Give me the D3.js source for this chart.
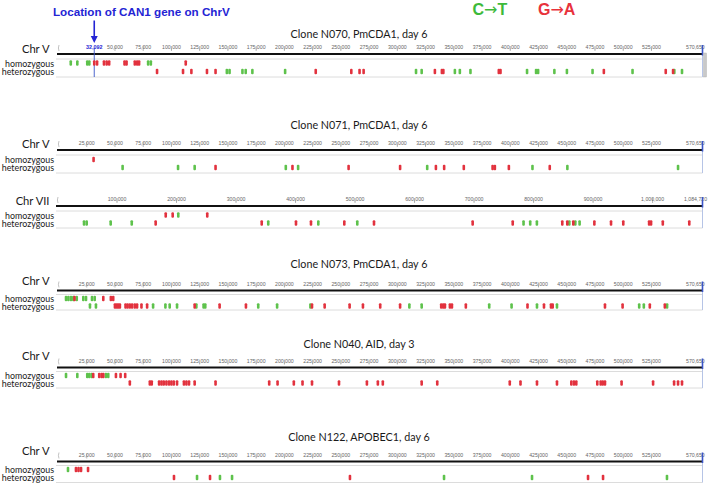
<!DOCTYPE html>
<html><head><meta charset="utf-8">
<script src="https://cdn.jsdelivr.net/npm/d3@7"></script>
<style>body{margin:0;background:#fff}svg{display:block}</style>
</head><body><svg id="c" width="708" height="485"></svg>
<script>
// ---------------- DATA ----------------
const chrVLength = 570650;
const chrVIILength = 1084720;
const chrVTicks = d3.range(25000, 525001, 25000);
const chrVIITicks = d3.range(100000, 1000001, 100000);
const can1Position = 32092;
const panelTitles = ["Clone N070, PmCDA1, day 6", "Clone N071, PmCDA1, day 6", "", "Clone N073, PmCDA1, day 6", "Clone N040, AID, day 3", "Clone N122, APOBEC1, day 6"];
const chromosomeNames = ["Chr V", "Chr V", "Chr VII", "Chr V", "Chr V", "Chr V"];
const rowNames = ["homozygous", "heterozygous"];
const mutationFrom = ["C", "G"];
const mutationTo = ["T", "A"];

// Clone N070, Chr V
const n070HomCT = [11300, 17100, 25900, 27700, 79800, 82200];
const n070HomGA = [32100, 34600, 40700, 43100, 45300, 58900, 60700, 68000, 70100, 71800, 113100];
const n070HetCT = [149500, 151900, 163300, 166200, 172100, 201100, 317000, 322000, 351400, 355800, 365200, 415300, 423300, 425100, 439500, 450600, 473300, 508700, 545700, 552500];
const n070HetGA = [87700, 110700, 118100, 131900, 139500, 228200, 259700, 267000, 270600, 333700, 339900, 341200, 390300, 391800, 483300, 538100, 544600];
// Clone N071, Chr V
const n071HomCT = [];
const n071HomGA = [31500];
const n071HetCT = [57200, 106300, 121000, 201700, 212600, 326900, 420100, 451000, 549000];
const n071HetGA = [139500, 207600, 257300, 302900, 334600, 341900, 359300, 384800, 386800, 399200, 435400];
// Clone N071, Chr VII
const n071VIIHomCT = [203800];
const n071VIIHomGA = [182700, 194400, 252500];
const n071VIIHetCT = [45400, 49900, 90200, 125600, 355000, 439100, 504600, 784000, 795200, 806400, 860900, 871000, 878200];
const n071VIIHetGA = [165800, 344000, 401600, 426800, 482800, 532700, 698500, 765800, 849100, 857500, 867600, 903000, 931000, 951600, 995000, 998300, 1018000, 1062500];
// Clone N073, Chr V
const n073HomCT = [7100, 9200, 11500, 13600, 16600, 22400, 24800, 30100, 32500];
const n073HomGA = [14600, 40100, 46800, 48900];
const n073HetCT = [28300, 33600, 84200, 95100, 98900, 105400, 122500, 128900, 130400, 177300, 194000, 223500, 311100, 322000, 381800, 401600, 424100, 441800, 514600, 518700, 539300];
const n073HetGA = [50400, 51900, 53300, 54800, 59800, 61600, 63600, 65600, 68000, 70000, 73900, 78900, 121000, 143100, 166400, 224900, 236100, 258200, 270000, 285300, 302900, 339300, 341100, 342600, 347000, 348800, 361100, 415700, 430300, 436500, 438000, 484300, 499900, 524000, 537300];
// Clone N040, Chr V
const n040HomCT = [7100, 17100, 25900, 27700, 29800, 42400, 44500];
const n040HomGA = [31200, 36500, 38600, 40100, 51300, 55400, 59500];
const n040HetCT = [];
const n040HetGA = [63600, 81300, 83000, 89500, 91600, 93600, 96000, 98300, 100400, 102500, 105400, 111500, 113700, 116000, 121000, 139500, 187000, 194400, 208800, 216500, 224900, 248800, 273500, 283200, 287600, 322000, 335800, 400000, 409500, 424100, 441800, 454500, 456800, 458900, 477500, 480500, 482300, 484300, 499000, 526900, 545500, 549000, 552500];
// Clone N122, Chr V
const n122HomCT = [8850];
const n122HomGA = [15900, 18150, 20400, 26600];
const n122HetCT = [123100, 143400, 154100, 341800, 419700, 539200];
const n122HetGA = [102700, 134600, 258500, 469300, 482600];

// ---------------- LAYOUT ----------------
const W = 708, H = 485;
const COL = {ct: "#5ec24c", ga: "#e2323e", blue: "#2424d4", axisBlue: "#3a55c8"};
const SANS = "Liberation Sans, Arial, sans-serif";
const HUM = "Lato, sans-serif";
const panels = [
  {title: 0, chr: 0, len: chrVLength, ticks: chrVTicks, x0: 58, hom: [n070HomCT, n070HomGA], het: [n070HetCT, n070HetGA], titleY: 33, chrY: 48, axisY: 54, grayY: 59, homY: 63, hetY: 71.5, botY: 77, can1: true, scroll: true},
  {title: 1, chr: 1, len: chrVLength, ticks: chrVTicks, x0: 58, hom: [n071HomCT, n071HomGA], het: [n071HetCT, n071HetGA], titleY: 124, chrY: 143, axisY: 150, grayY: 155, homY: 159.5, hetY: 167.5, botY: 173},
  {title: 2, chr: 2, len: chrVIILength, ticks: chrVIITicks, x0: 57, hom: [n071VIIHomCT, n071VIIHomGA], het: [n071VIIHetCT, n071VIIHetGA], titleY: 0, chrY: 200, axisY: 206, grayY: 211, homY: 215, hetY: 223, botY: 228},
  {title: 3, chr: 3, len: chrVLength, ticks: chrVTicks, x0: 58, hom: [n073HomCT, n073HomGA], het: [n073HetCT, n073HetGA], titleY: 263, chrY: 280, axisY: 290.5, grayY: 294.5, homY: 298.5, hetY: 306, botY: 310},
  {title: 4, chr: 4, len: chrVLength, ticks: chrVTicks, x0: 58, hom: [n040HomCT, n040HomGA], het: [n040HetCT, n040HetGA], titleY: 343, chrY: 355, axisY: 367.5, grayY: 371.5, homY: 375.5, hetY: 383, botY: 388},
  {title: 5, chr: 5, len: chrVLength, ticks: chrVTicks, x0: 58, hom: [n122HomCT, n122HomGA], het: [n122HetCT, n122HetGA], titleY: 436, chrY: 450, axisY: 461.5, grayY: 465.5, homY: 469.5, hetY: 477.5, botY: 482.5}
];
const X1 = 702.5;

const svg = d3.select("#c");
svg.append("rect").attr("width", W).attr("height", H).attr("fill", "#fff");

// font size that makes a text a given width
function fitSize(sel, target) {
  const w = sel.node().getComputedTextLength();
  const fs = +sel.attr("font-size");
  return fs * target / w;
}

// Header
const loc = svg.append("text").attr("x", 53).attr("y", 15.5)
  .attr("font-family", SANS).attr("font-weight", "bold")
  .attr("font-size", 12).attr("fill", COL.blue).text("Location of CAN1 gene on ChrV");
loc.attr("font-size", Math.min(13, fitSize(loc, 177)));

const legendX = [472.5, 538];
const legendW = [36.6, 41];
mutationFrom.forEach((f, i) => {
  const t = svg.append("text").attr("x", legendX[i]).attr("y", 14.5)
    .attr("font-family", SANS).attr("font-weight", "bold")
    .attr("font-size", 14.5).attr("fill", i === 0 ? "#3dba3a" : "#e8323c");
  t.append("tspan").text(f);
  t.append("tspan").attr("font-family", "DejaVu Sans, sans-serif").attr("font-weight", "normal").text("→");
  t.append("tspan").text(mutationTo[i]);
  t.attr("font-size", Math.min(16, fitSize(t, legendW[i])));
});

const fmt = d3.format(",");

// measure shared sizes
const probe = svg.append("text").attr("font-family", HUM).attr("font-size", 12).text(panelTitles[0]);
const titleSize = fitSize(probe, 137);
probe.text("Chr V");
const chrSize = fitSize(probe, 27.6);
probe.text(rowNames[1]);
const rowSize = fitSize(probe, 52.3);
probe.remove();

panels.forEach((p, pi) => {
  const x = d3.scaleLinear().domain([0, p.len]).range([p.x0, X1]);
  const g = svg.append("g");
  if (panelTitles[p.title]) {
    g.append("text").attr("x", 359).attr("y", p.titleY).attr("text-anchor", "middle")
      .attr("dominant-baseline", "central").attr("font-family", HUM)
      .attr("font-size", titleSize).attr("fill", "#1a1a1a").text(panelTitles[p.title]);
  }
  g.append("text").attr("x", 49.5).attr("y", p.chrY).attr("text-anchor", "end")
    .attr("dominant-baseline", "central").attr("font-family", HUM)
    .attr("font-size", chrSize).attr("fill", "#1a1a1a").text(chromosomeNames[p.chr]);
  [p.homY, p.hetY].forEach((yy, k) => {
    g.append("text").attr("x", 54).attr("y", yy).attr("text-anchor", "end")
      .attr("dominant-baseline", "central").attr("font-family", HUM)
      .attr("font-size", rowSize).attr("fill", "#1a1a1a").text(rowNames[k]);
  });
  // gray guide lines
  [p.grayY, p.botY].forEach(yy => g.append("line").attr("x1", 56).attr("x2", X1).attr("y1", yy).attr("y2", yy)
    .attr("stroke", "#dcdcdc").attr("stroke-width", 1));
  // ticks
  let tv = p.ticks;
  if (p.can1) tv = tv.filter(v => Math.abs(v - can1Position) > 12000);
  const axis = d3.axisTop(x).tickValues(tv).tickFormat(fmt).tickSize(5).tickPadding(-3.4);
  const ag = g.append("g").attr("transform", `translate(0,${p.axisY - 3})`).call(axis);
  ag.select(".domain").remove();
  ag.selectAll(".tick line").attr("stroke", "#888").attr("stroke-width", 0.6);
  ag.selectAll(".tick text").attr("font-family", SANS)
    .attr("font-size", 5.2).attr("fill", "#666");
  // end label
  g.append("text").attr("x", p.len > 1e6 ? 684 : 686).attr("y", p.axisY - 4.7)
    .attr("font-family", SANS).attr("font-size", 5.2)
    .attr("fill", "#666").text(fmt(p.len));
  // start bracket
  g.append("path").attr("d", `M${p.x0 + 1},${p.axisY - 9} q-1.2,3 0,6`).attr("fill", "none")
    .attr("stroke", "#999").attr("stroke-width", 0.6);
  // axis
  g.append("line").attr("x1", p.x0 - 1).attr("x2", X1).attr("y1", p.axisY).attr("y2", p.axisY)
    .attr("stroke", "#111").attr("stroke-width", 2);
  // end marker
  g.append("line").attr("x1", X1).attr("x2", X1).attr("y1", p.axisY).attr("y2", p.botY)
    .attr("stroke", "#b6c4e6").attr("stroke-width", 1);
  g.append("line").attr("x1", X1).attr("x2", X1).attr("y1", p.axisY - 9).attr("y2", p.axisY + 1.5)
    .attr("stroke", COL.axisBlue).attr("stroke-width", 1.6);
  if (p.scroll) {
    g.append("rect").attr("x", 703.5).attr("y", p.axisY - 1).attr("width", 3).attr("height", p.botY - p.axisY + 1)
      .attr("fill", "#c9c9c9").attr("stroke", "#aaa").attr("stroke-width", 0.4);
  }
  if (p.can1) {
    const cx = x(can1Position);
    g.append("line").attr("x1", cx).attr("x2", cx).attr("y1", p.axisY - 6).attr("y2", p.botY)
      .attr("stroke", COL.axisBlue).attr("stroke-width", 0.9);
    g.append("text").attr("x", cx).attr("y", p.axisY - 4.7).attr("text-anchor", "middle")
      .attr("font-family", SANS).attr("font-size", 5.4)
      .attr("font-weight", "bold").attr("fill", COL.blue).text(fmt(can1Position));
    // arrow
    svg.append("line").attr("x1", cx).attr("x2", cx).attr("y1", 20.5).attr("y2", 38)
      .attr("stroke", COL.blue).attr("stroke-width", 1.6);
    svg.append("path").attr("d", `M${cx - 3.5},36 L${cx + 3.5},36 L${cx},43 Z`).attr("fill", COL.blue);
  }
  // marks
  const rows = [[p.homY, p.hom], [p.hetY, p.het]];
  rows.forEach(([yy, sets]) => {
    sets.forEach((arr, k) => {
      g.selectAll(null).data(arr).enter().append("rect")
        .attr("x", d => x(d) - 1.3).attr("y", yy - 2.8)
        .attr("width", 2.6).attr("height", 5.6).attr("rx", 1.1)
        .attr("fill", k === 0 ? COL.ct : COL.ga);
    });
  });
});
</script></body></html>
